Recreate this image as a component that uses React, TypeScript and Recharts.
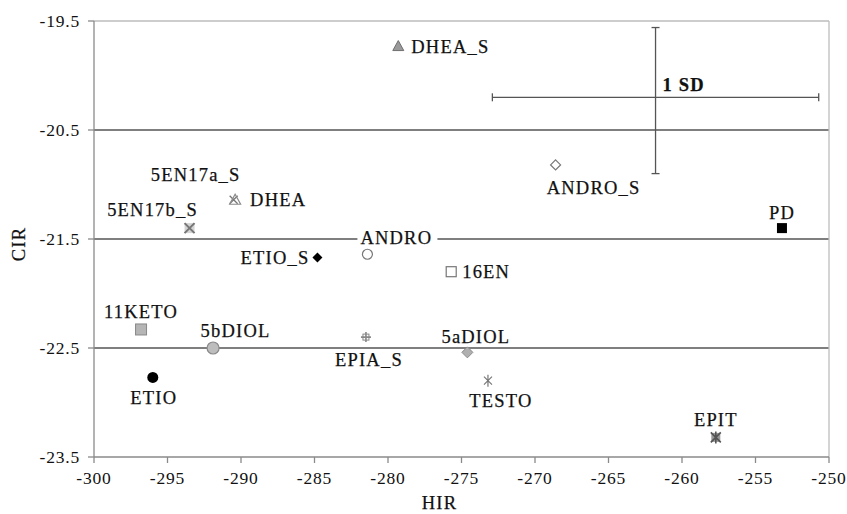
import React from 'react';
import { ScatterChart, Scatter, XAxis, YAxis, CartesianGrid, ReferenceLine, ErrorBar, Label } from 'recharts';

// compounds, HIR (x) and CIR (y)
const names = ['DHEA_S', '5EN17a_S', 'DHEA', '5EN17b_S', 'ETIO_S', 'ANDRO', '16EN', 'ANDRO_S', 'PD', '11KETO', '5bDIOL', 'ETIO', 'EPIA_S', '5aDIOL', 'TESTO', 'EPIT'];
const hir = [-279.3, -290.5, -290.4, -293.5, -284.8, -281.4, -275.7, -268.6, -253.2, -296.8, -291.9, -296.0, -281.5, -274.6, -273.2, -257.7];
const cir = [-19.73, -21.14, -21.14, -21.40, -21.67, -21.64, -21.80, -20.82, -21.40, -22.33, -22.50, -22.77, -22.40, -22.54, -22.80, -23.32];

// the "1 SD" cross
const sdCenter = [-261.8, -20.2];
const sdX = [11.1, 11.1];
const sdY = [0.7, 0.64];

const xTicks = [-300, -295, -290, -285, -280, -275, -270, -265, -260, -255, -250];
const yTicks = [-23.5, -22.5, -21.5, -20.5, -19.5];
const gridValues = [-22.5, -21.5, -20.5];

const FONT = '"Liberation Serif", "DejaVu Serif", serif';

// marker kind per compound
const MARKER: { [k: string]: string } = {
    DHEA_S: 'triFill', '5EN17a_S': 'x', DHEA: 'triOpen', '5EN17b_S': 'xSquare', ETIO_S: 'diamondBlack',
    ANDRO: 'circleOpen', '16EN': 'squareOpen', ANDRO_S: 'diamondOpen', PD: 'squareBlack', '11KETO': 'squareGray',
    '5bDIOL': 'circleGray', ETIO: 'circleBlack', EPIA_S: 'hash', '5aDIOL': 'diamondGray', TESTO: 'asterisk', EPIT: 'star',
};

// label placement relative to marker
const LABEL_POS: { [k: string]: { dx: number; dy: number; anchor: string; bg?: boolean } } = {
    DHEA_S: { dx: 13, dy: 0, anchor: 'start' },
    '5EN17a_S': { dx: -38, dy: -25, anchor: 'middle' },
    DHEA: { dx: 15, dy: 0, anchor: 'start' },
    '5EN17b_S': { dx: -37, dy: -19, anchor: 'middle' },
    ETIO_S: { dx: -8, dy: 0, anchor: 'end' },
    ANDRO: { dx: -7, dy: -16.5, anchor: 'start', bg: true },
    '16EN': { dx: 11, dy: 0, anchor: 'start' },
    ANDRO_S: { dx: 38, dy: 23, anchor: 'middle' },
    PD: { dx: 0, dy: -16, anchor: 'middle' },
    '11KETO': { dx: 0, dy: -18, anchor: 'middle' },
    '5bDIOL': { dx: 22.5, dy: -17, anchor: 'middle' },
    ETIO: { dx: 1, dy: 20, anchor: 'middle' },
    EPIA_S: { dx: 3, dy: 22.5, anchor: 'middle' },
    '5aDIOL': { dx: 8.5, dy: -16, anchor: 'middle' },
    TESTO: { dx: 13, dy: 20, anchor: 'middle' },
    EPIT: { dx: 0, dy: -18, anchor: 'middle' },
};

const points = names.map((name, i) => ({ name, x: hir[i], y: cir[i] }));
const sdData = [{ x: sdCenter[0], y: sdCenter[1], ex: sdX, ey: sdY }];

function drawMarker(kind: string, cx: number, cy: number) {
    const s = 5.5;
    switch (kind) {
        case 'triFill':
            return <polygon points={`${cx},${cy - s} ${cx - s},${cy + s - 1} ${cx + s},${cy + s - 1}`} fill="#9a9a9a" stroke="#6f6f6f" strokeWidth={1} />;
        case 'triOpen':
            return <polygon points={`${cx},${cy - s} ${cx - s},${cy + s - 1} ${cx + s},${cy + s - 1}`} fill="none" stroke="#8a8a8a" strokeWidth={1.2} />;
        case 'x':
            return <path d={`M${cx - 4},${cy - 4}L${cx + 4},${cy + 4}M${cx - 4},${cy + 4}L${cx + 4},${cy - 4}`} stroke="#777" strokeWidth={1.3} />;
        case 'xSquare':
            return (
                <g>
                    <rect x={cx - 5} y={cy - 5} width={10} height={10} fill="#d4d4d4" />
                    <path d={`M${cx - 5},${cy - 5}L${cx + 5},${cy + 5}M${cx - 5},${cy + 5}L${cx + 5},${cy - 5}`} stroke="#777" strokeWidth={2} />
                </g>
            );
        case 'diamondBlack':
            return <polygon points={`${cx},${cy - 5} ${cx + 5},${cy} ${cx},${cy + 5} ${cx - 5},${cy}`} fill="#000" />;
        case 'diamondOpen':
            return <polygon points={`${cx},${cy - 5} ${cx + 5},${cy} ${cx},${cy + 5} ${cx - 5},${cy}`} fill="#fff" stroke="#777" strokeWidth={1.2} />;
        case 'diamondGray':
            return <polygon points={`${cx},${cy - 5.5} ${cx + 5.5},${cy} ${cx},${cy + 5.5} ${cx - 5.5},${cy}`} fill="#b0b0b0" stroke="#8a8a8a" strokeWidth={1} />;
        case 'circleOpen':
            return <circle cx={cx} cy={cy} r={5} fill="#fff" stroke="#777" strokeWidth={1.2} />;
        case 'circleGray':
            return <circle cx={cx} cy={cy} r={6} fill="#bdbdbd" stroke="#8a8a8a" strokeWidth={1.2} />;
        case 'circleBlack':
            return <circle cx={cx} cy={cy} r={5.5} fill="#000" />;
        case 'squareOpen':
            return <rect x={cx - 5} y={cy - 5} width={10} height={10} fill="#fff" stroke="#777" strokeWidth={1.2} />;
        case 'squareBlack':
            return <rect x={cx - 5} y={cy - 5} width={10} height={10} fill="#000" />;
        case 'squareGray':
            return <rect x={cx - 5.5} y={cy - 5.5} width={11} height={11} fill="#b5b5b5" stroke="#888" strokeWidth={1} />;
        case 'hash':
            return (
                <g stroke="#888" strokeWidth={1.6}>
                    <path d={`M${cx - 5},${cy}L${cx + 5},${cy}M${cx},${cy - 5}L${cx},${cy + 5}`} />
                    <rect x={cx - 3} y={cy - 3} width={6} height={6} fill="none" strokeWidth={1} />
                </g>
            );
        case 'asterisk':
            return <path d={`M${cx - 4},${cy - 4}L${cx + 4},${cy + 4}M${cx - 4},${cy + 4}L${cx + 4},${cy - 4}M${cx},${cy - 6}L${cx},${cy + 6}`} stroke="#777" strokeWidth={1.2} />;
        case 'star':
            return (
                <g>
                    <rect x={cx - 4.5} y={cy - 4.5} width={9} height={9} fill="#9a9a9a" />
                    <path d={`M${cx - 5},${cy - 5}L${cx + 5},${cy + 5}M${cx - 5},${cy + 5}L${cx + 5},${cy - 5}M${cx},${cy - 6}L${cx},${cy + 6}`} stroke="#555" strokeWidth={1.6} />
                </g>
            );
        default:
            return null;
    }
}

const textProps = { fontFamily: FONT, fontSize: 18.5, letterSpacing: 1.2, fill: '#111', stroke: '#111', strokeWidth: 0.25 };

function CompoundPoint(props: any) {
    const { cx, cy, payload } = props;
    if (cx == null || cy == null) return null;
    const pos = LABEL_POS[payload.name];
    const tx = cx + pos.dx;
    const ty = cy + pos.dy;
    return (
        <g>
            {drawMarker(MARKER[payload.name], cx, cy)}
            {pos.bg && <rect x={tx - 3} y={ty - 10} width={80} height={20} fill="#fff" />}
            <text x={tx} y={ty} dy="0.35em" textAnchor={pos.anchor as any} {...textProps}>
                {payload.name}
            </text>
        </g>
    );
}

function SdPoint(props: any) {
    const { cx, cy } = props;
    if (cx == null || cy == null) return null;
    return (
        <text x={cx + 7} y={cy - 13} dy="0.35em" {...textProps} fontWeight="bold">
            1 SD
        </text>
    );
}

const tickStyle = { fontFamily: FONT, fontSize: 17.5, fill: '#111', letterSpacing: 0.8 };

export default function App() {
    return (
        <div style={{ position: 'absolute', left: 0, top: 0, background: '#fff' }}>
            <ScatterChart width={847} height={514} margin={{ top: 21, right: 18, bottom: 0, left: 0 }}>
                <CartesianGrid vertical={false} horizontalValues={gridValues} stroke="#555" strokeWidth={1.3} />
                <ReferenceLine y={-19.5} stroke="#bdbdbd" strokeWidth={1.3} />
                <ReferenceLine x={-250} stroke="#bdbdbd" strokeWidth={1.3} />
                <XAxis
                    type="number"
                    dataKey="x"
                    domain={[-300, -250]}
                    ticks={xTicks}
                    height={57}
                    tickSize={6}
                    tickMargin={9}
                    stroke="#8a8a8a"
                    strokeWidth={1.3}
                    tick={tickStyle}
                >
                    <Label
                        content={({ viewBox }: any) => (
                            <text x={viewBox.x + viewBox.width / 2 - 22} y={viewBox.y + 46} dy="0.35em" textAnchor="middle" {...textProps}>
                                HIR
                            </text>
                        )}
                    />
                </XAxis>
                <YAxis
                    type="number"
                    dataKey="y"
                    domain={[-23.5, -19.5]}
                    ticks={yTicks}
                    width={94}
                    tickSize={6}
                    tickMargin={8}
                    stroke="#8a8a8a"
                    strokeWidth={1.3}
                    tick={tickStyle}
                >
                    <Label
                        content={({ viewBox }: any) => {
                            const lx = 19;
                            const ly = viewBox.y + viewBox.height / 2 + 5;
                            return (
                                <text x={lx} y={ly} dy="0.35em" textAnchor="middle" transform={`rotate(-90 ${lx} ${ly})`} {...textProps}>
                                    CIR
                                </text>
                            );
                        }}
                    />
                </YAxis>
                <Scatter data={sdData} shape={SdPoint} isAnimationActive={false}>
                    <ErrorBar dataKey="ex" direction="x" width={4} stroke="#555" strokeWidth={1.3} />
                    <ErrorBar dataKey="ey" direction="y" width={4} stroke="#555" strokeWidth={1.3} />
                </Scatter>
                <Scatter data={points} shape={CompoundPoint} isAnimationActive={false} />
            </ScatterChart>
        </div>
    );
}
